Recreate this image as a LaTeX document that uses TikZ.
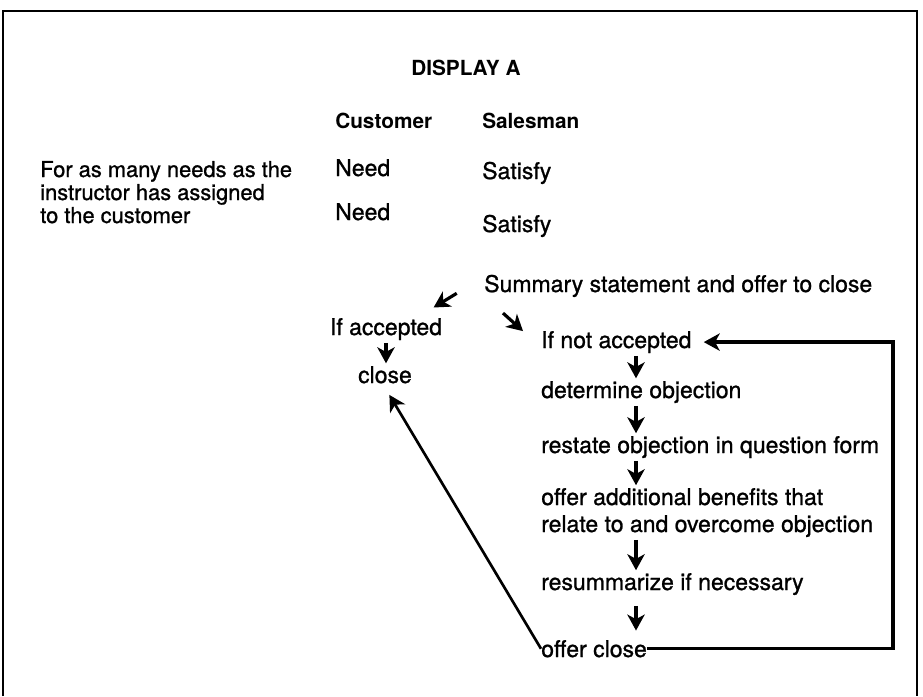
\documentclass[tikz,border=0pt]{standalone}
\usepackage{fontspec}
\setmainfont{TeX Gyre Heros}
\newfontfamily\heavyfont[UprightFeatures={FakeBold=1}]{TeX Gyre Heros}
\usetikzlibrary{arrows.meta}
\begin{document}
\begin{tikzpicture}[x=0.75pt,y=-0.75pt,
  txt/.style={inner sep=0pt,anchor=base west,font=\heavyfont\fontsize{17.25}{20}\selectfont},
  lft/.style={inner sep=0pt,anchor=base west,font=\heavyfont\fontsize{16.4}{19}\selectfont},
  hdr/.style={inner sep=0pt,anchor=base west,font=\fontsize{15.6}{18}\selectfont\bfseries},
  arr/.style={line width=2.4pt,shorten <=2pt,shorten >=2pt,-{Stealth[length=12pt,width=13pt,inset=3.5pt]}},
  link/.style={line width=2pt}]
\useasboundingbox (0,0) rectangle (923,696);
% frame, open at the bottom
\draw[line width=1.4pt] (3,696) -- (3,11) -- (917,11) -- (917,696);
% headings
\node[hdr] (title) at (411,75) {DISPLAY A};
\node[hdr] (cust) at (335,128) {Customer};
\node[hdr] (sales) at (482,128) {Salesman};
% needs
\node[lft] (lft1) at (40,177) {For as many needs as the};
\node[lft] (lft2) at (40,200) {instructor has assigned};
\node[lft] (lft3) at (40,223) {to the customer};
\node[txt] (need1) at (335,176) {Need};
\node[txt] (need2) at (335,220) {Need};
\node[txt] (sat1) at (482,179) {Satisfy};
\node[txt] (sat2) at (482,232) {Satisfy};
% close sequence
\node[txt] (summ) at (484,292) {Summary statement and offer to close};
\node[txt,anchor=base] (acc) at (386,335) {If accepted};
\node[txt,anchor=base] (close) at (385,383) {close};
\node[txt] (notacc) at (541,348) {If not accepted};
\node[txt] (det) at (541,398) {determine objection};
\node[txt] (restate) at (541,453) {restate objection in question form};
\node[txt] (offer) at (541,505) {offer additional benefits that};
\node[txt] (relate) at (541,532) {relate to and overcome objection};
\node[txt] (resum) at (541,590) {resummarize if necessary};
\node[txt] (offcl) at (541,657) {offer close};
\coordinate (col) at (636,0);
\coordinate (rt) at (893,0);
% arrows
\draw[arr] ([shift={(-25,6)}]summ.west) -- ([shift={(-11,-9)}]acc.north east);
\draw[arr] ([shift={(17,14)}]summ.south west) -- ([shift={(-16,2)}]notacc.north west);
\draw[arr] (acc.south) -- (acc.south |- close.north);
\draw[arr] (notacc.south -| col) -- (det.north -| col);
\draw[arr] (det.south -| col) -- (restate.north -| col);
\draw[arr] (restate.south -| col) -- (offer.north -| col);
\draw[arr] (relate.south -| col) -- (resum.north -| col);
\draw[arr,shorten <=8pt,shorten >=7pt] (resum.south -| col) -- (offcl.north -| col);
\draw[arr,link,shorten <=0pt] (offcl.west) -- ([shift={(3,9)}]close.south);
\draw[arr,shorten <=0pt,shorten >=0pt] (offcl.east) -- (offcl.east -| rt) -- (notacc.east -| rt) -- ([shift={(12,0)}]notacc.east);
\end{tikzpicture}
\end{document}
